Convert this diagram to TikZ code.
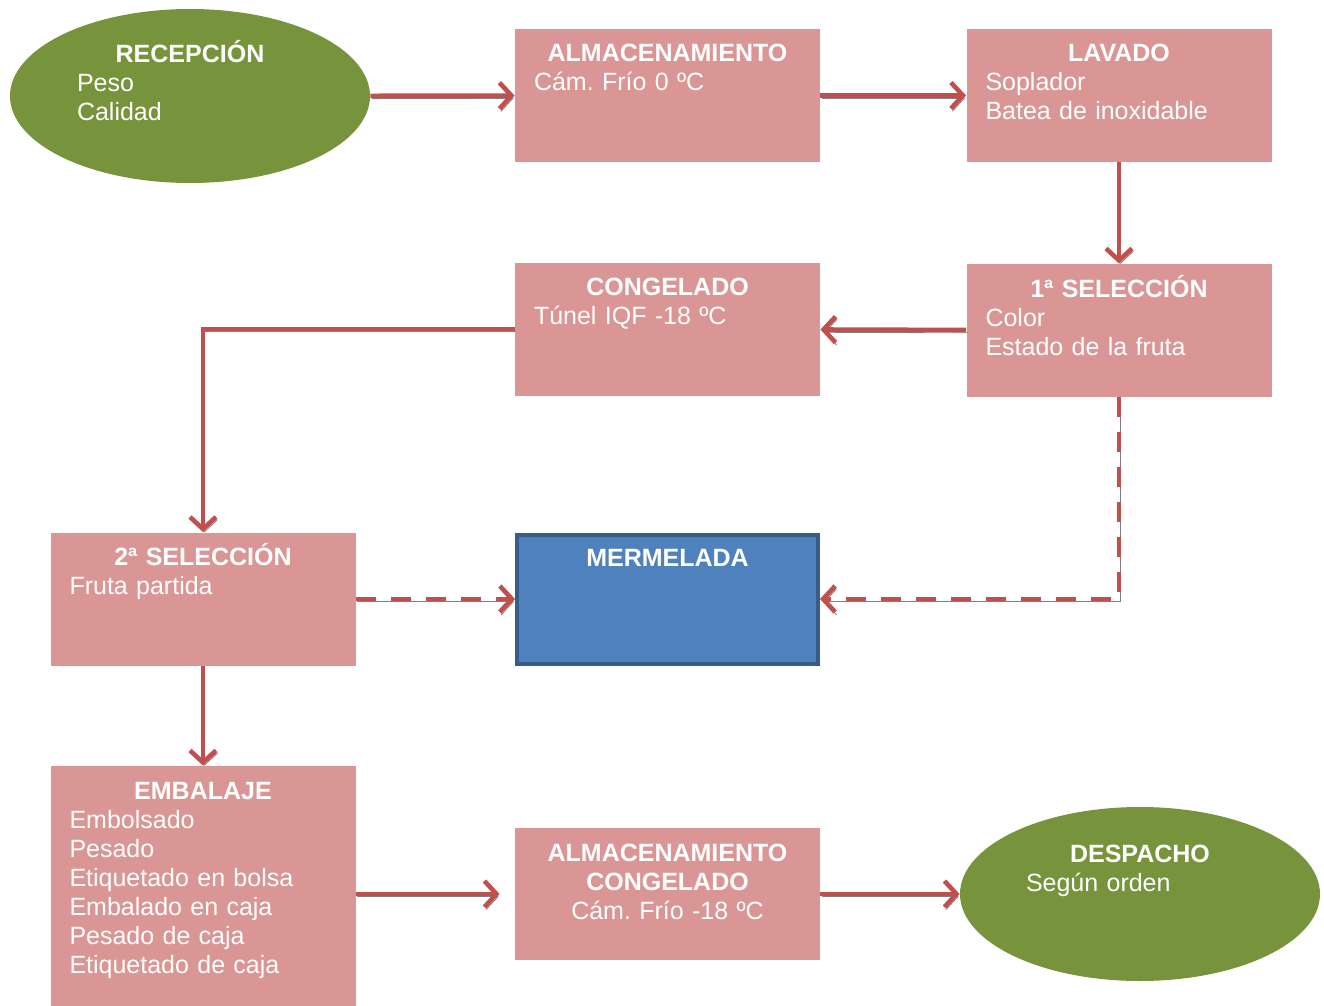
\documentclass[tikz,border=0pt]{standalone}
\usepackage{fontspec}
\setmainfont{Liberation Sans}
\usetikzlibrary{arrows.meta,shapes.geometric}
\definecolor{boxpink}{HTML}{D99694}
\definecolor{flowred}{HTML}{C0504D}
\definecolor{oliva}{HTML}{77933C}
\definecolor{mermblue}{HTML}{4F81BD}
\definecolor{mermedge}{HTML}{385D8A}
\newcommand{\stagetitle}[1]{\rule{0pt}{12pt}\hfill\textbf{#1}\hfill\mbox{}}

\begin{document}
\begin{tikzpicture}[
    x=0.5pt,y=-0.5pt,
    >={Straight Barb[length=6pt,width=13pt]},
    stage/.style={fill=boxpink,minimum width=152.5pt,minimum height=66.5pt,inner sep=0pt},
    endpoint/.style={ellipse,fill=oliva,minimum width=180pt,minimum height=87pt,inner sep=0pt},
    txt/.style={anchor=north,inner sep=0pt,text=white,align=left,text width=133.5pt,
      font=\fontsize{12.5}{14.5}\selectfont\frenchspacing},
    flow/.style={->,flowred,line width=2.3pt,
      preaction={draw=black!50,transform canvas={shift={(0.7pt,-1.4pt)}}}},
    aside/.style={flow,dash pattern=on 10pt off 7.5pt},
  ]
    \useasboundingbox (0,0) rectangle (1324,1006);

    % top row
    \node[endpoint] (rec) at (190,96) {};
    \node[txt,text width=113pt] (rect) at ([yshift=-15pt]rec.north)
      {\stagetitle{RECEPCIÓN}\\Peso\\Calidad};
    \node[stage] (alm1) at (667.5,95.5) {};
    \node[txt] (alm1t) at ([yshift=-4.5pt]alm1.north)
      {\stagetitle{ALMACENAMIENTO}\\Cám. Frío 0 ºC};
    \node[stage] (lav) at (1119,95.5) {};
    \node[txt] (lavt) at ([yshift=-4.5pt]lav.north)
      {\stagetitle{LAVADO}\\Soplador\\Batea de inoxidable};

    % second row
    \node[stage] (sel1) at (1119,330.5) {};
    \node[txt] (sel1t) at ([yshift=-4.5pt]sel1.north)
      {\stagetitle{1ª SELECCIÓN}\\Color\\Estado de la fruta};
    \node[stage] (cong) at (667.5,329) {};
    \node[txt] (congt) at ([yshift=-4.5pt]cong.north)
      {\stagetitle{CONGELADO}\\Túnel IQF -18 ºC};

    % third row
    \node[stage] (sel2) at (203,599) {};
    \node[txt] (sel2t) at ([yshift=-4.5pt]sel2.north)
      {\stagetitle{2ª SELECCIÓN}\\Fruta partida};
    \node[stage,fill=mermblue,draw=mermedge,line width=2pt,
      minimum width=150.5pt,minimum height=64.5pt] (merm) at (667.5,599) {};
    \node[txt] (mermt) at ([yshift=-5pt]merm.north) {\stagetitle{MERMELADA}};

    % bottom row
    \node[stage,minimum height=120pt] (emb) at (203,886) {};
    \node[txt] (embt) at ([yshift=-4.5pt]emb.north)
      {\stagetitle{EMBALAJE}\\Embolsado\\Pesado\\Etiquetado en bolsa\\Embalado en caja\\Pesado de caja\\Etiquetado de caja};
    \node[stage,minimum height=66pt] (alm2) at (667.5,894) {};
    \node[txt,align=center] (alm2t) at ([yshift=-4.5pt]alm2.north)
      {\rule{0pt}{12pt}\textbf{ALMACENAMIENTO}\\\textbf{CONGELADO}\\Cám. Frío -18 ºC};
    \node[endpoint] (desp) at (1140,894) {};
    \node[txt,text width=114pt] (despt) at ([yshift=-15.5pt]desp.north)
      {\stagetitle{DESPACHO}\\Según orden};

    % connectors
    \draw[flow] (rec) -- (alm1);
    \draw[flow] (alm1) -- (lav);
    \draw[flow] (lav) -- (sel1);
    \draw[flow] (sel1) -- (cong);
    \draw[flow] (cong.west) -| (sel2.north);
    \draw[aside] (sel2) -- (merm);
    \draw[aside] (sel1.south) |- (merm.east);
    \draw[flow] (sel2) -- (emb);
    \draw[flow,shorten >=7.5pt] (emb.east |- alm2.west) -- (alm2.west);
    \draw[flow] (alm2) -- (desp);
  \end{tikzpicture}
\end{document}
